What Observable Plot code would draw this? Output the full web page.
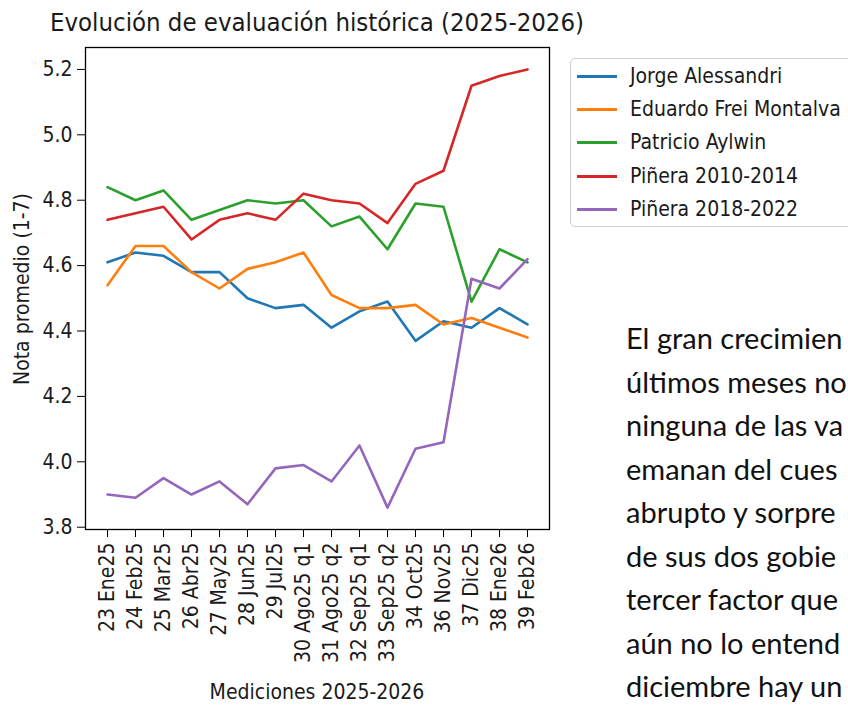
<!DOCTYPE html>
<html>
<head>
<meta charset="utf-8">
<script src="https://cdn.jsdelivr.net/npm/d3@7"></script>
<script src="https://cdn.jsdelivr.net/npm/@observablehq/plot@0.6"></script>
<style>
  html, body { margin: 0; padding: 0; background: #fff; }
  #wrap { position: relative; width: 848px; height: 708px; overflow: hidden; background: #fff; }
  .mpl { font-family: "DejaVu Sans Condensed", "DejaVu Sans", sans-serif; color: #1a1a1a; }
  #title { position: absolute; left: 0; width: 634px; top: 7px; text-align: center; font-size: 25.5px; white-space: nowrap; }
  #ylab { position: absolute; left: 22px; top: 289px; font-size: 21px; white-space: nowrap; transform: translate(-50%, -50%) rotate(-90deg); }
  #xlab { position: absolute; left: 0; width: 634px; top: 680px; text-align: center; font-size: 21px; white-space: nowrap; }
  #legend { position: absolute; left: 570px; top: 58px; width: 300px; height: 169px; border: 1.3px solid #d0d0d0; border-radius: 5px; box-sizing: border-box; background: #fff; }
  .lg { position: absolute; left: 0; height: 30px; width: 300px; }
  .lg .sw { position: absolute; left: 6px; width: 40px; height: 3px; top: 14px; }
  .lg .tx { position: absolute; left: 59px; top: 1px; font-size: 21px; line-height: 28px; white-space: nowrap; }
  #note { position: absolute; left: 626px; top: 316px; width: 222px; white-space: nowrap; font-family: Lato, "Open Sans", sans-serif; font-size: 29px; line-height: 43.5px; color: #111; }
</style>
</head>
<body>
<div id="wrap">
  <div id="chart"></div>
  <div id="title" class="mpl">Evolución de evaluación histórica (2025-2026)</div>
  <div id="ylab" class="mpl">Nota promedio (1-7)</div>
  <div id="xlab" class="mpl">Mediciones 2025-2026</div>
  <div id="legend" class="mpl"></div>
  <div id="note"></div>
</div>
<script>
// Mediciones (x axis categories)
const mediciones = ["23 Ene25", "24 Feb25", "25 Mar25", "26 Abr25", "27 May25", "28 Jun25", "29 Jul25",
  "30 Ago25 q1", "31 Ago25 q2", "32 Sep25 q1", "33 Sep25 q2", "34 Oct25", "36 Nov25", "37 Dic25", "38 Ene26", "39 Feb26"];

// Series names and colours
const series = ["Jorge Alessandri", "Eduardo Frei Montalva", "Patricio Aylwin", "Piñera 2010-2014", "Piñera 2018-2022"];
const colors = ["#1f77b4", "#ff7f0e", "#2ca02c", "#d62728", "#9467bd"];

// Values (Nota promedio 1-7)
const alessandri = [4.61, 4.64, 4.63, 4.58, 4.58, 4.50, 4.47, 4.48, 4.41, 4.46, 4.49, 4.37, 4.43, 4.41, 4.47, 4.42];
const freiMontalva = [4.54, 4.66, 4.66, 4.58, 4.53, 4.59, 4.61, 4.64, 4.51, 4.47, 4.47, 4.48, 4.42, 4.44, 4.41, 4.38];
const aylwin = [4.84, 4.80, 4.83, 4.74, 4.77, 4.80, 4.79, 4.80, 4.72, 4.75, 4.65, 4.79, 4.78, 4.49, 4.65, 4.61];
const pinera1 = [4.74, 4.76, 4.78, 4.68, 4.74, 4.76, 4.74, 4.82, 4.80, 4.79, 4.73, 4.85, 4.89, 5.15, 5.18, 5.20];
const pinera2 = [3.90, 3.89, 3.95, 3.90, 3.94, 3.87, 3.98, 3.99, 3.94, 4.05, 3.86, 4.04, 4.06, 4.56, 4.53, 4.62];

// Y tick values
const yTicks = [3.8, 4.0, 4.2, 4.4, 4.6, 4.8, 5.0, 5.2];

// Note text (as visible in the reference, which cuts it at the right edge)
const noteLines = ["El gran crecimien", "últimos meses no", "ninguna de las va", "emanan del cues",
  "abrupto y sorpre", "de sus dos gobie", "tercer factor que", "aún no lo entend", "diciembre hay un"];

const valueSets = [alessandri, freiMontalva, aylwin, pinera1, pinera2];
const data = [];
series.forEach((s, i) => valueSets[i].forEach((v, j) => data.push({serie: s, medicion: mediciones[j], valor: v})));

const chart = Plot.plot({
  width: 560,
  height: 708,
  marginLeft: 85,
  marginRight: 11,
  marginTop: 47,
  marginBottom: 179,
  style: {fontFamily: "'DejaVu Sans Condensed', 'DejaVu Sans', sans-serif", fontSize: "21px", color: "#1a1a1a", background: "transparent"},
  x: {type: "point", domain: mediciones, padding: 0.75},
  y: {domain: [3.793, 5.267]},
  color: {domain: series, range: colors},
  marks: [
    Plot.lineY(data, {x: "medicion", y: "valor", z: "serie", stroke: "serie", strokeWidth: 2.6}),
    Plot.frame({stroke: "black", strokeWidth: 1.3}),
    Plot.axisY({ticks: yTicks, tickFormat: d => d.toFixed(1), tickSize: 8, tickPadding: 5, label: null, stroke: "black"}),
    Plot.axisX({tickRotate: -90, tickSize: 8, tickPadding: 5, label: null, stroke: "black"})
  ]
});
document.getElementById("chart").appendChild(chart);

// Legend
const legend = document.getElementById("legend");
series.forEach((s, i) => {
  const row = document.createElement("div");
  row.className = "lg";
  row.style.top = (2 + i * 33.2) + "px";
  row.innerHTML = `<div class="sw" style="background:${colors[i]}"></div><div class="tx">${s}</div>`;
  legend.appendChild(row);
});

// Note
document.getElementById("note").innerHTML = noteLines.map(l => `<div>${l}</div>`).join("");
</script>
</body>
</html>
